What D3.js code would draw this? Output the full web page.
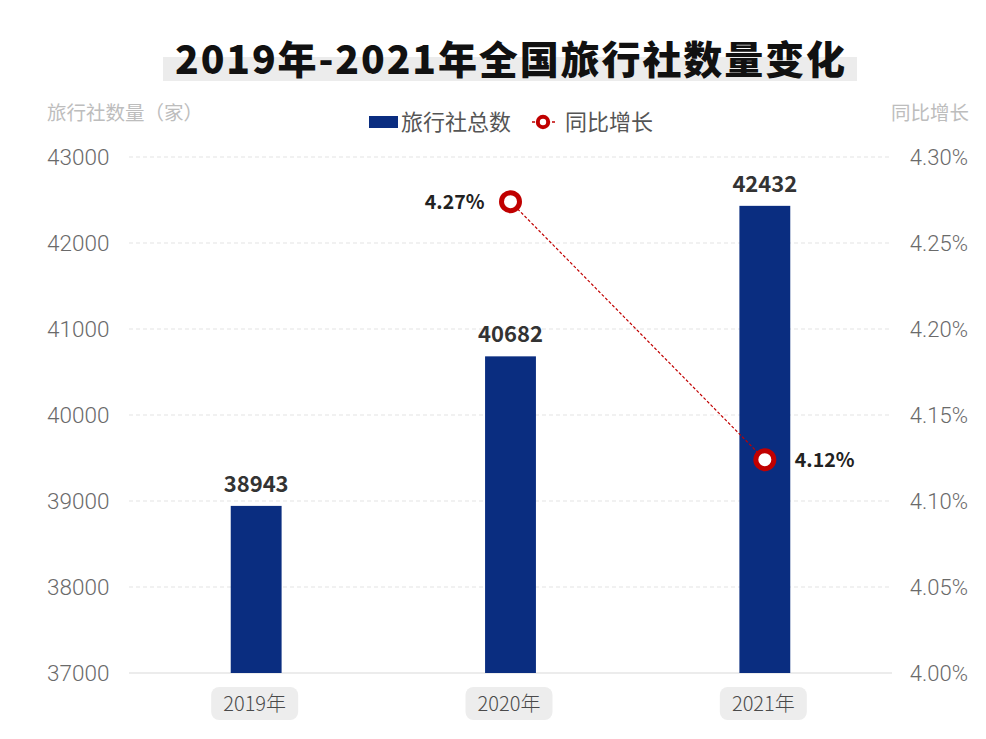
<!DOCTYPE html>
<html><head><meta charset="utf-8">
<script src="https://cdn.jsdelivr.net/npm/d3@7"></script>
<style>
body{margin:0;background:#fff;}
svg{display:block;font-family:"Noto Sans CJK SC","Noto Sans",sans-serif;}
</style></head>
<body><svg id="chart" width="986" height="739"></svg>
<script>
const categories = ["2019年","2020年","2021年"];
const agencyCounts = [38943, 40682, 42432];
const growthYears = ["2020年","2021年"];
const growthRates = [4.274, 4.124];
const leftTicks = [37000,38000,39000,40000,41000,42000,43000];
const rightTicks = [4.00,4.05,4.10,4.15,4.20,4.25,4.30];

const svg = d3.select("#chart");
const W = 986, H = 739;
const m = {left:129, right:94, top:157, bottom:66};
const x0 = m.left, x1 = W - m.right, yTop = m.top, yBot = H - m.bottom;
const numFont = "Roboto,'Noto Sans',sans-serif";

const x = d3.scaleBand().domain(categories).range([x0, x1]).paddingInner(0.8).paddingOuter(0.4);
const yL = d3.scaleLinear().domain([37000,43000]).range([yBot, yTop]);
const yR = d3.scaleLinear().domain([4.00,4.30]).range([yBot, yTop]);

// title
const tg = svg.append("g");
tg.append("rect").attr("x",163).attr("y",57).attr("width",694).attr("height",24).attr("fill","#ececec");
tg.append("text").attr("x",511).attr("y",74).attr("text-anchor","middle")
  .attr("font-size",39).attr("font-weight",900).attr("fill","#111").attr("letter-spacing",1.9)
  .text("2019年-2021年全国旅行社数量变化");

// axis titles
svg.append("text").attr("x",47).attr("y",120).attr("font-size",19.5).attr("fill","#bdbdbd").text("旅行社数量（家）");
svg.append("text").attr("x",969).attr("y",120).attr("text-anchor","end").attr("font-size",19.5).attr("fill","#bdbdbd").text("同比增长");

// gridlines
svg.append("g").selectAll("line").data(leftTicks.slice(1)).join("line")
  .attr("x1",x0).attr("x2",x1).attr("y1",d=>yL(d)).attr("y2",d=>yL(d))
  .attr("stroke","#e3e3e3").attr("stroke-dasharray","4,3");

// left axis
const la = svg.append("g").attr("transform",`translate(${x0},0)`)
  .call(d3.axisLeft(yL).tickValues(leftTicks).tickSize(0).tickPadding(0).tickFormat(d3.format("d")));
la.select(".domain").remove();
la.selectAll("text").attr("x",-82).attr("text-anchor","start").attr("font-size",22.5).attr("fill","#6a6a6a").attr("dy","0.35em")
  .style("font-family",numFont).style("font-weight",300);

// right axis
const ra = svg.append("g").attr("transform",`translate(${x1},0)`)
  .call(d3.axisRight(yR).tickValues(rightTicks).tickSize(0).tickPadding(0).tickFormat(d=>d.toFixed(2)+"%"));
ra.select(".domain").remove();
ra.selectAll("text").attr("x",76).attr("text-anchor","end").attr("font-size",22).attr("fill","#6a6a6a").attr("dy","0.35em")
  .style("font-family",numFont).style("font-weight",300);

// baseline
svg.append("line").attr("x1",x0).attr("x2",x1).attr("y1",yBot).attr("y2",yBot).attr("stroke","#e6e6e6").attr("stroke-width",1.5);

// bars
svg.append("g").selectAll("rect").data(categories).join("rect")
  .attr("x",d=>x(d)).attr("width",x.bandwidth())
  .attr("y",(d,i)=>yL(agencyCounts[i])).attr("height",(d,i)=>yBot-yL(agencyCounts[i]))
  .attr("fill","#0a2d80");

// bar labels
svg.append("g").selectAll("text").data(categories).join("text")
  .attr("x",d=>x(d)+x.bandwidth()/2).attr("y",(d,i)=>yL(agencyCounts[i])-14)
  .attr("text-anchor","middle").attr("font-size",22).attr("font-weight",700).attr("fill","#333")
  .text((d,i)=>agencyCounts[i]);

// x labels with rounded boxes
const xl = svg.append("g").selectAll("g").data(categories).join("g")
  .attr("transform",d=>`translate(${x(d)+x.bandwidth()/2-1.5},${yBot+30.5})`);
xl.append("rect").attr("x",-43.5).attr("y",-16.5).attr("width",87).attr("height",33).attr("rx",8).attr("fill","#ededed");
xl.append("text").attr("text-anchor","middle").attr("dy","0.35em").attr("font-size",20).attr("fill","#4a4a4a")
  .style("font-weight",300).text(d=>d);

// growth line
const cx = d=>x(d)+x.bandwidth()/2;
const line = d3.line().x((d,i)=>cx(growthYears[i])).y(d=>yR(d));
svg.append("path").datum(growthRates).attr("d",line).attr("fill","none")
  .attr("stroke","#c00000").attr("stroke-width",1.2).attr("stroke-dasharray","3,2");
svg.append("g").selectAll("circle").data(growthRates).join("circle")
  .attr("cx",(d,i)=>cx(growthYears[i])).attr("cy",d=>yR(d)).attr("r",9)
  .attr("fill","#fff").attr("stroke","#c00000").attr("stroke-width",5);
svg.append("g").selectAll("text").data(growthRates).join("text")
  .attr("x",(d,i)=>cx(growthYears[i]) + (i===0?-26:30))
  .attr("y",d=>yR(d)).attr("dy","0.35em")
  .attr("text-anchor",(d,i)=>i===0?"end":"start")
  .attr("font-size",19.5).attr("font-weight",700).attr("fill","#222")
  .text(d=>d.toFixed(2)+"%");

// legend
const lg = svg.append("g");
lg.append("rect").attr("x",369).attr("y",116).attr("width",29).attr("height",12).attr("fill","#0a2d80");
lg.append("text").attr("x",401).attr("y",122).attr("dy","0.35em").attr("font-size",22).attr("fill","#555").text("旅行社总数");
lg.append("line").attr("x1",532).attr("x2",556).attr("y1",122).attr("y2",122).attr("stroke","#c00000").attr("stroke-width",1.5).attr("stroke-dasharray","3,2");
lg.append("circle").attr("cx",543).attr("cy",122).attr("r",5.2).attr("fill","#fff").attr("stroke","#c00000").attr("stroke-width",4);
lg.append("text").attr("x",565).attr("y",122).attr("dy","0.35em").attr("font-size",22).attr("fill","#555").text("同比增长");
</script></body></html>
